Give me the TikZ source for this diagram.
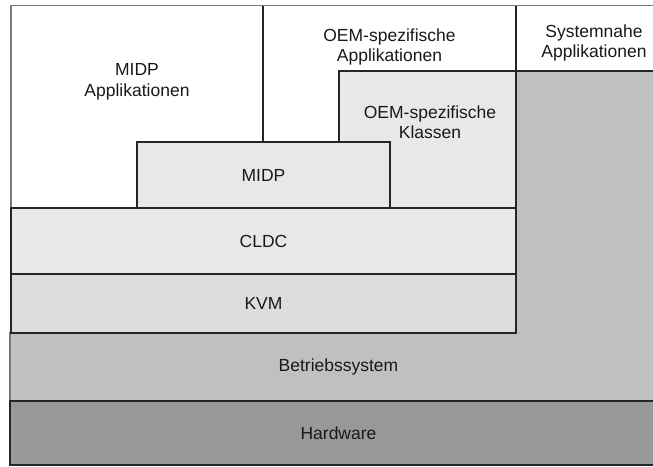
\documentclass[tikz,border=0pt]{standalone}
\usepackage{fontspec}
\setmainfont{Liberation Sans}
\definecolor{edge}{HTML}{262626}
\definecolor{frameline}{HTML}{7A7A7A}
\definecolor{lightfill}{HTML}{E8E8E8}
\definecolor{kvmfill}{HTML}{DDDDDD}
\definecolor{osfill}{HTML}{C0C0C0}
\definecolor{hwfill}{HTML}{999999}
\begin{document}
\begin{tikzpicture}[x=1pt,y=-1pt,
  txt/.style={align=center,text=black!90,font=\fontsize{17.5}{20.5}\selectfont,inner sep=0pt},
  layer/.style={draw=edge,line width=1.2pt,rectangle,inner sep=0pt,txt}]
\useasboundingbox (0,0) rectangle (653,466);
\clip (0,0) rectangle (653,466);

% operating system: L-shaped layer reaching up on the right
\path[fill=osfill,draw=frameline,line width=1.2pt]
  (10,333) -- (516,333) -- (516,71) -- (680,71) -- (680,401) -- (10,401) -- cycle;
\draw[edge,line width=1.2pt] (516,71) -- (680,71);
\draw[edge,line width=1.2pt] (516,71) -- (516,333);
\node[txt] (os) at (338.5,367) {Betriebssystem};

% hardware
\node[layer,fill=hwfill,minimum width=670pt,minimum height=64pt] (hw) at (345,433) {};
\node[txt] (hwtext) at (338.5,433) {Hardware};

% outer frame around the application area
\draw[frameline,line width=1.2pt] (11,208) -- (11,5.5) -- (680,5.5);
\draw[edge,line width=1.2pt] (263,5.5) -- (263,142);
\draw[edge,line width=1.2pt] (516,5.5) -- (516,71);

% Java stack
\node[layer,fill=kvmfill,minimum width=505pt,minimum height=59pt] (kvm) at (263.5,303.5) {KVM};
\node[layer,fill=lightfill,minimum width=505pt,minimum height=66pt] (cldc) at (263.5,241) {CLDC};
\node[layer,fill=lightfill,minimum width=177pt,minimum height=137pt] (oemk) at (427.5,139.5) {};
\node[txt] (oemktext) at (430,122) {OEM-spezifische\\Klassen};
\node[layer,fill=lightfill,minimum width=253pt,minimum height=66pt] (midp) at (263.5,175) {MIDP};

% application labels
\node[txt] (midpapp) at (137,82) {MIDP\\Applikationen};
\node[txt] (oemapp) at (389.5,47) {OEM-spezifische\\Applikationen};
\node[txt] (sysapp) at (594,43) {Systemnahe\\Applikationen};
\end{tikzpicture}
\end{document}
